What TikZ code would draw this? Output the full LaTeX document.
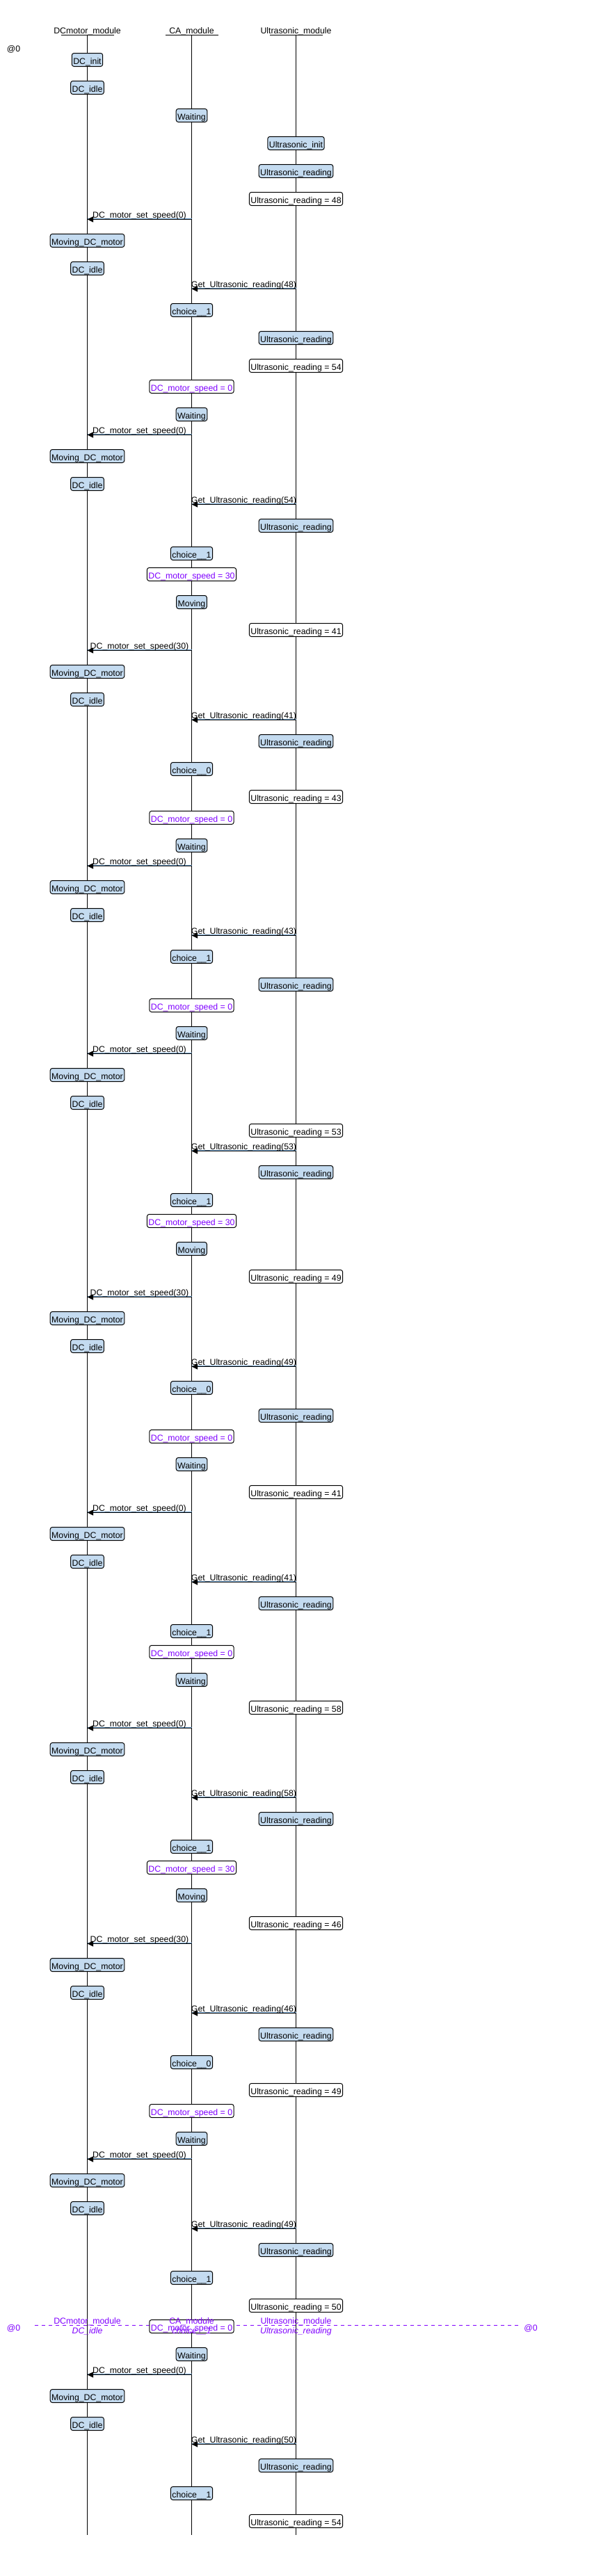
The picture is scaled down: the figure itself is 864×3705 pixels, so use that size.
\documentclass[tikz,border=0pt]{standalone}
\usepackage{fontspec}
\setmainfont{Liberation Sans}
\usetikzlibrary{arrows.meta}
\definecolor{stblue}{RGB}{196,219,240}
\definecolor{purp}{RGB}{128,0,255}
\definecolor{msgblue}{RGB}{120,170,215}
\newcommand\fsz{\fontsize{12.3}{14}\selectfont}
\tikzset{
  basebox/.style={draw=black, line width=1pt, rounded corners=3pt, minimum height=19pt,
    inner xsep=2pt, inner ysep=0pt, text height=12pt, text depth=0pt, font=\fsz},
  stb/.style={basebox, fill=stblue},
  valb/.style={basebox, fill=white},
  spdb/.style={basebox, fill=white, text=purp},
  lifeline/.style={line width=1pt, black},
  msgline/.style={line width=1pt, black, -{Triangle[length=8.5pt,width=8pt]}},
  msgshade/.style={line width=1pt, msgblue},
  lbl/.style={font=\fsz, inner sep=0pt, anchor=base},
  hdr/.style={font=\fsz, inner sep=0pt, anchor=base},
  marker/.style={purp, line width=1pt, dash pattern=on 5pt off 5pt},
  mklbl/.style={font=\fsz, text=purp, inner sep=0pt, anchor=base},
  mkit/.style={mklbl, font=\fsz\itshape},
}
\newcommand\stateN[4]{\node[stb] (#1) at (#2,#3) {#4};}
\newcommand\valN[4]{\node[valb] (#1) at (#2,#3) {#4};}
\newcommand\spdN[4]{\node[spdb] (#1) at (#2,#3) {#4};}
\newcommand\msgN[5]{%
  \coordinate (#1s) at (#2,#4);
  \coordinate (#1e) at (#3,#4);
  \draw[msgshade] ([yshift=1pt]#1s) -- ([yshift=1pt]#1e);
  \draw[msgline] (#1s) -- (#1e);
  \path (#1s) -- (#1e) node[midway, lbl, yshift=2pt] {#5};}
\def\xd{125.5}
\def\xc{275.5}
\def\xu{425.5}
\begin{document}
\begin{tikzpicture}[x=1pt,y=-1pt]
\fill[white] (0,0) rectangle (864,3705);
\useasboundingbox (0,0) rectangle (864,3705);
% headers
\node[hdr] (hd) at (\xd,48.5) {DCmotor\_module};
\node[hdr] (hc) at (\xc,48.5) {CA\_module};
\node[hdr] (hu) at (\xu,48.5) {Ultrasonic\_module};
\draw[lifeline] (87.5,50.5) -- (163.5,50.5);
\draw[lifeline] (237.5,50.5) -- (313.5,50.5);
\draw[lifeline] (387.5,50.5) -- (463.5,50.5);
\node[hdr] (at0) at (19.5,74) {@0};
% lifelines
\coordinate (dtop) at (\xd,50.5); \coordinate (dbot) at (\xd,3646);
\coordinate (ctop) at (\xc,50.5); \coordinate (cbot) at (\xc,3646);
\coordinate (utop) at (\xu,50.5); \coordinate (ubot) at (\xu,3646);
\draw[lifeline] (dtop) -- (dbot);
\draw[lifeline] (ctop) -- (cbot);
\draw[lifeline] (utop) -- (ubot);
% time marker line
\coordinate (mkl) at (49.5,3344.5); \coordinate (mkr) at (749,3344.5);
\draw[marker] (mkl) -- (mkr);
% events
\stateN{n1}{\xd}{86}{DC\_init}
\stateN{n2}{\xd}{126}{DC\_idle}
\stateN{n3}{\xc}{166}{Waiting}
\stateN{n4}{\xu}{206}{Ultrasonic\_init}
\stateN{n5}{\xu}{246}{Ultrasonic\_reading}
\valN{n6}{\xu}{286}{Ultrasonic\_reading = 48}
\msgN{m7}{\xc}{\xd}{315.5}{DC\_motor\_set\_speed(0)}
\stateN{n8}{\xd}{346}{Moving\_DC\_motor}
\stateN{n9}{\xd}{386}{DC\_idle}
\msgN{m10}{\xu}{\xc}{415.5}{Get\_Ultrasonic\_reading(48)}
\stateN{n11}{\xc}{446}{choice\_\_1}
\stateN{n12}{\xu}{486}{Ultrasonic\_reading}
\valN{n13}{\xu}{526}{Ultrasonic\_reading = 54}
\spdN{n14}{\xc}{556}{DC\_motor\_speed = 0}
\stateN{n15}{\xc}{596}{Waiting}
\msgN{m16}{\xc}{\xd}{625.5}{DC\_motor\_set\_speed(0)}
\stateN{n17}{\xd}{656}{Moving\_DC\_motor}
\stateN{n18}{\xd}{696}{DC\_idle}
\msgN{m19}{\xu}{\xc}{725.5}{Get\_Ultrasonic\_reading(54)}
\stateN{n20}{\xu}{756}{Ultrasonic\_reading}
\stateN{n21}{\xc}{796}{choice\_\_1}
\spdN{n22}{\xc}{826}{DC\_motor\_speed = 30}
\stateN{n23}{\xc}{866}{Moving}
\valN{n24}{\xu}{906}{Ultrasonic\_reading = 41}
\msgN{m25}{\xc}{\xd}{935.5}{DC\_motor\_set\_speed(30)}
\stateN{n26}{\xd}{966}{Moving\_DC\_motor}
\stateN{n27}{\xd}{1006}{DC\_idle}
\msgN{m28}{\xu}{\xc}{1035.5}{Get\_Ultrasonic\_reading(41)}
\stateN{n29}{\xu}{1066}{Ultrasonic\_reading}
\stateN{n30}{\xc}{1106}{choice\_\_0}
\valN{n31}{\xu}{1146}{Ultrasonic\_reading = 43}
\spdN{n32}{\xc}{1176}{DC\_motor\_speed = 0}
\stateN{n33}{\xc}{1216}{Waiting}
\msgN{m34}{\xc}{\xd}{1245.5}{DC\_motor\_set\_speed(0)}
\stateN{n35}{\xd}{1276}{Moving\_DC\_motor}
\stateN{n36}{\xd}{1316}{DC\_idle}
\msgN{m37}{\xu}{\xc}{1345.5}{Get\_Ultrasonic\_reading(43)}
\stateN{n38}{\xc}{1376}{choice\_\_1}
\stateN{n39}{\xu}{1416}{Ultrasonic\_reading}
\spdN{n40}{\xc}{1446}{DC\_motor\_speed = 0}
\stateN{n41}{\xc}{1486}{Waiting}
\msgN{m42}{\xc}{\xd}{1515.5}{DC\_motor\_set\_speed(0)}
\stateN{n43}{\xd}{1546}{Moving\_DC\_motor}
\stateN{n44}{\xd}{1586}{DC\_idle}
\valN{n45}{\xu}{1626}{Ultrasonic\_reading = 53}
\msgN{m46}{\xu}{\xc}{1655.5}{Get\_Ultrasonic\_reading(53)}
\stateN{n47}{\xu}{1686}{Ultrasonic\_reading}
\stateN{n48}{\xc}{1726}{choice\_\_1}
\spdN{n49}{\xc}{1756}{DC\_motor\_speed = 30}
\stateN{n50}{\xc}{1796}{Moving}
\valN{n51}{\xu}{1836}{Ultrasonic\_reading = 49}
\msgN{m52}{\xc}{\xd}{1865.5}{DC\_motor\_set\_speed(30)}
\stateN{n53}{\xd}{1896}{Moving\_DC\_motor}
\stateN{n54}{\xd}{1936}{DC\_idle}
\msgN{m55}{\xu}{\xc}{1965.5}{Get\_Ultrasonic\_reading(49)}
\stateN{n56}{\xc}{1996}{choice\_\_0}
\stateN{n57}{\xu}{2036}{Ultrasonic\_reading}
\spdN{n58}{\xc}{2066}{DC\_motor\_speed = 0}
\stateN{n59}{\xc}{2106}{Waiting}
\valN{n60}{\xu}{2146}{Ultrasonic\_reading = 41}
\msgN{m61}{\xc}{\xd}{2175.5}{DC\_motor\_set\_speed(0)}
\stateN{n62}{\xd}{2206}{Moving\_DC\_motor}
\stateN{n63}{\xd}{2246}{DC\_idle}
\msgN{m64}{\xu}{\xc}{2275.5}{Get\_Ultrasonic\_reading(41)}
\stateN{n65}{\xu}{2306}{Ultrasonic\_reading}
\stateN{n66}{\xc}{2346}{choice\_\_1}
\spdN{n67}{\xc}{2376}{DC\_motor\_speed = 0}
\stateN{n68}{\xc}{2416}{Waiting}
\valN{n69}{\xu}{2456}{Ultrasonic\_reading = 58}
\msgN{m70}{\xc}{\xd}{2485.5}{DC\_motor\_set\_speed(0)}
\stateN{n71}{\xd}{2516}{Moving\_DC\_motor}
\stateN{n72}{\xd}{2556}{DC\_idle}
\msgN{m73}{\xu}{\xc}{2585.5}{Get\_Ultrasonic\_reading(58)}
\stateN{n74}{\xu}{2616}{Ultrasonic\_reading}
\stateN{n75}{\xc}{2656}{choice\_\_1}
\spdN{n76}{\xc}{2686}{DC\_motor\_speed = 30}
\stateN{n77}{\xc}{2726}{Moving}
\valN{n78}{\xu}{2766}{Ultrasonic\_reading = 46}
\msgN{m79}{\xc}{\xd}{2795.5}{DC\_motor\_set\_speed(30)}
\stateN{n80}{\xd}{2826}{Moving\_DC\_motor}
\stateN{n81}{\xd}{2866}{DC\_idle}
\msgN{m82}{\xu}{\xc}{2895.5}{Get\_Ultrasonic\_reading(46)}
\stateN{n83}{\xu}{2926}{Ultrasonic\_reading}
\stateN{n84}{\xc}{2966}{choice\_\_0}
\valN{n85}{\xu}{3006}{Ultrasonic\_reading = 49}
\spdN{n86}{\xc}{3036}{DC\_motor\_speed = 0}
\stateN{n87}{\xc}{3076}{Waiting}
\msgN{m88}{\xc}{\xd}{3105.5}{DC\_motor\_set\_speed(0)}
\stateN{n89}{\xd}{3136}{Moving\_DC\_motor}
\stateN{n90}{\xd}{3176}{DC\_idle}
\msgN{m91}{\xu}{\xc}{3205.5}{Get\_Ultrasonic\_reading(49)}
\stateN{n92}{\xu}{3236}{Ultrasonic\_reading}
\stateN{n93}{\xc}{3276}{choice\_\_1}
\valN{n94}{\xu}{3316}{Ultrasonic\_reading = 50}
\spdN{n95}{\xc}{3346}{DC\_motor\_speed = 0}
\stateN{n96}{\xc}{3386}{Waiting}
\msgN{m97}{\xc}{\xd}{3415.5}{DC\_motor\_set\_speed(0)}
\stateN{n98}{\xd}{3446}{Moving\_DC\_motor}
\stateN{n99}{\xd}{3486}{DC\_idle}
\msgN{m100}{\xu}{\xc}{3515.5}{Get\_Ultrasonic\_reading(50)}
\stateN{n101}{\xu}{3546}{Ultrasonic\_reading}
\stateN{n102}{\xc}{3586}{choice\_\_1}
\valN{n103}{\xu}{3626}{Ultrasonic\_reading = 54}
% time marker labels
\node[mklbl] (mk0l) at (19.5,3352.5) {@0};
\node[mklbl] (mk0r) at (763,3352.5) {@0};
\node[mklbl] (mkd) at (\xd,3342.5) {DCmotor\_module};
\node[mkit] (mkds) at (\xd,3356) {DC\_idle};
\node[mklbl] (mkc) at (\xc,3342.5) {CA\_module};
\node[mkit] (mkcs) at (\xc,3356) {choice\_\_1};
\node[mklbl] (mku) at (\xu,3342.5) {Ultrasonic\_module};
\node[mkit] (mkus) at (\xu,3356) {Ultrasonic\_reading};
\end{tikzpicture}
\end{document}
